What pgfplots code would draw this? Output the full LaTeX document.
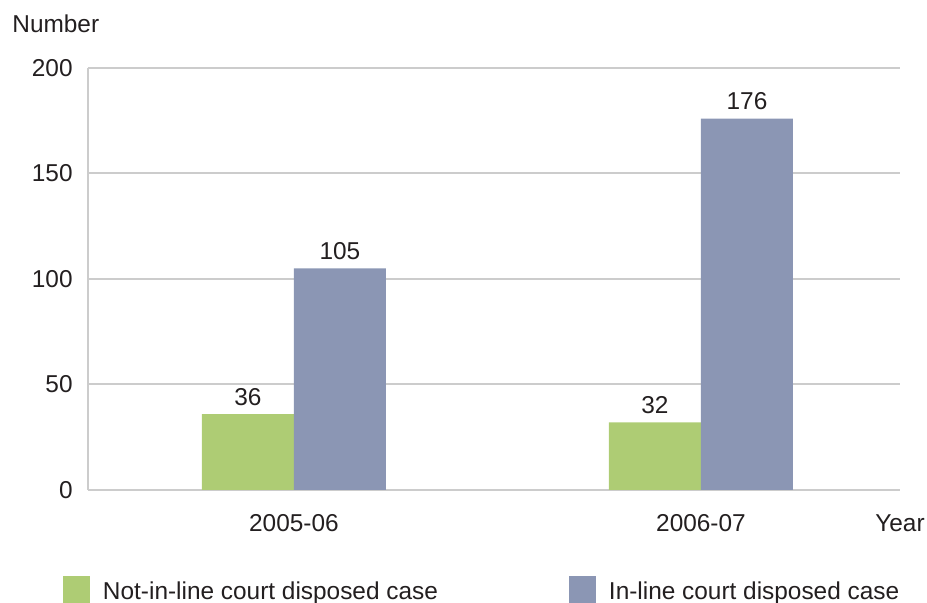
\documentclass[border=0pt]{standalone}
\usepackage{pgfplots}
\pgfplotsset{compat=1.18}
\usepackage{fontspec}
\setmainfont{Liberation Sans}
\definecolor{barGreen}{RGB}{174,204,116}
\definecolor{barBlue}{RGB}{139,150,180}
\definecolor{gridGray}{RGB}{204,204,204}
\definecolor{txt}{RGB}{35,31,32}
\begin{document}
\begin{tikzpicture}[font=\fontsize{12.2}{14}\selectfont, text=txt]
\begin{axis}[
scale only axis,
width=406pt,
height=211pt,
ybar=0pt,
bar width=46pt,
xmin=-0.506, xmax=1.489,
ymin=0, ymax=200,
xtick={0,1},
xticklabels={2005-06,2006-07},
ytick={0,50,100,150,200},
/pgf/number format/assume math mode=true,
major tick length=0pt,
axis x line*=bottom,
axis y line*=left,
axis line style={draw=gridGray, line width=1pt, -},
ymajorgrids,
grid style={draw=gridGray, line width=1pt},
yticklabel style={anchor=east, inner sep=0pt, xshift=-7.5pt},
xticklabel style={anchor=north, inner sep=0pt, yshift=-12pt},
nodes near coords,
every node near coord/.append style={anchor=south, inner sep=0pt, yshift=4pt},
legend columns=2,
legend image code/.code={\fill[#1] (0pt,-5.2pt) rectangle (13.5pt,8.3pt);},
legend style={at={(axis description cs:0,0)}, anchor=north west,
  xshift=-12.5pt, yshift=-43pt, draw=none, inner sep=0pt, outer sep=0pt,
  nodes={inner sep=0pt},
  /tikz/every odd column/.append style={column sep=6.5pt},
  /tikz/every even column/.append style={column sep=65.5pt}},
clip=false
]
\addplot[fill=barGreen, draw=none] coordinates {(0,36) (1,32)};
\addplot[fill=barBlue, draw=none] coordinates {(0,105) (1,176)};
\legend{Not-in-line court disposed case, In-line court disposed case}
\node[anchor=base west, inner sep=0pt] at ([xshift=-38pt, yshift=17.5pt]rel axis cs:0,1) {Number};
\node[anchor=north, inner sep=0pt] at ([yshift=-12pt]rel axis cs:1,0) {Year};
\end{axis}
\pgfresetboundingbox
\path (-44pt,-56.5pt) rectangle (419.5pt,245pt);
\end{tikzpicture}
\end{document}
